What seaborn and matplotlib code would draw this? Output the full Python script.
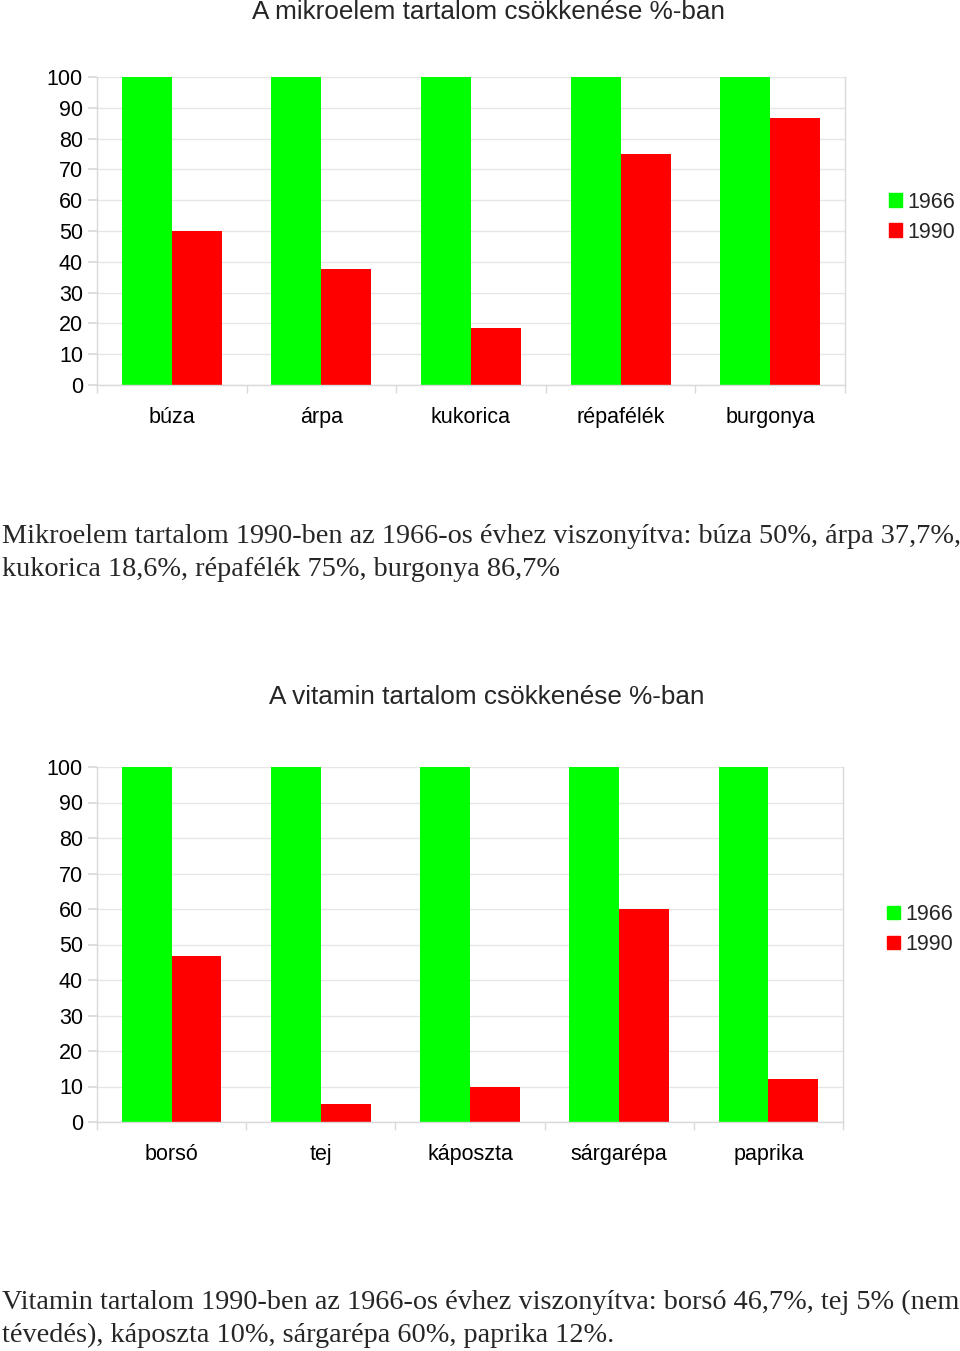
import numpy as np
import pandas as pd
import matplotlib
matplotlib.use("Agg")
import matplotlib.pyplot as plt
import seaborn as sns
from matplotlib.patches import Patch

# data
years = ["1966", "1990"]
mikro_cats = ["búza", "árpa", "kukorica", "répafélék", "burgonya"]
mikro_1966 = [100, 100, 100, 100, 100]
mikro_1990 = [50, 37.7, 18.6, 75, 86.7]
vitamin_cats = ["borsó", "tej", "káposzta", "sárgarépa", "paprika"]
vitamin_1966 = [100, 100, 100, 100, 100]
vitamin_1990 = [46.7, 5, 10, 60, 12]
y_ticks = list(range(0, 101, 10))

title1 = "A mikroelem tartalom csökkenése %-ban"
title2 = "A vitamin tartalom csökkenése %-ban"
text1 = ("Mikroelem tartalom 1990-ben az 1966-os évhez viszonyítva: búza 50%, árpa 37,7%,\n"
         "kukorica 18,6%, répafélék 75%, burgonya 86,7%")
text2 = ("Vitamin tartalom 1990-ben az 1966-os évhez viszonyítva: borsó 46,7%, tej 5% (nem\n"
         "tévedés), káposzta 10%, sárgarépa 60%, paprika 12%.")

sns.set_theme(style="white")
plt.rcParams["font.family"] = ["Liberation Sans", "DejaVu Sans"]

W, H = 960, 1351
fig = plt.figure(figsize=(W / 100, H / 100), dpi=100)
palette = {"1966": "#00ff00", "1990": "#ff0000"}
grey = "#d9d9d9"


def px_axes(x0, y0, x1, y1):
    return fig.add_axes([x0 / W, 1 - y1 / H, (x1 - x0) / W, (y1 - y0) / H])


def bar_chart(ax, cats, v1966, v1990, legend_y):
    df = pd.DataFrame({
        "cat": cats * 2,
        "year": ["1966"] * len(cats) + ["1990"] * len(cats),
        "value": v1966 + v1990,
    })
    sns.barplot(data=df, x="cat", y="value", hue="year", palette=palette,
                width=0.668, gap=0, saturation=1, ax=ax, legend=False,
                linewidth=0)
    ax.set_ylim(0, 100)
    ax.set_xlim(-0.5, len(cats) - 0.5)
    ax.set_yticks(y_ticks)
    ax.yaxis.grid(True, color="#e6e6e6", linewidth=1)
    ax.set_axisbelow(True)
    for s in ax.spines.values():
        s.set_color(grey)
        s.set_linewidth(1)
    ax.spines["top"].set_visible(False)
    ax.tick_params(axis="y", left=True, length=6.5, color=grey, labelsize=15.5,
                   pad=3.6, labelcolor="black")
    ax.set_xticks(np.arange(-0.5, len(cats)), minor=True)
    ax.tick_params(axis="x", which="minor", bottom=True, length=6, color=grey)
    ax.tick_params(axis="x", which="major", bottom=False, labelsize=15.5,
                   pad=9.5, labelcolor="black")
    ax.set_xlabel("")
    ax.set_ylabel("")
    handles = [Patch(color=palette[y], label=y) for y in years]
    ax.legend(handles=handles, loc="center left",
              bbox_to_anchor=(1.044, legend_y), frameon=False, fontsize=15.5,
              handlelength=0.6, handleheight=0.6, handletextpad=0.25,
              labelspacing=0.43, borderpad=0)


ax1 = px_axes(97, 77, 845, 385)
bar_chart(ax1, mikro_cats, mikro_1966, mikro_1990, 0.545)
fig.text(488 / W, 1 - 12 / H, title1, ha="center", va="center", fontsize=18.8)

ax2 = px_axes(97, 767, 843, 1122)
bar_chart(ax2, vitamin_cats, vitamin_1966, vitamin_1990, 0.542)
fig.text(487 / W, 1 - 697 / H, title2, ha="center", va="center", fontsize=18.8)

serif = ["Liberation Serif", "DejaVu Serif"]
fig.text(2 / W, 1 - 553 / H, text1, ha="left", va="center", fontsize=20.3,
         family=serif, linespacing=1.38)
fig.text(2 / W, 1 - 1319 / H, text2, ha="left", va="center", fontsize=20.3,
         family=serif, linespacing=1.38)

fig.savefig("out.png", dpi=100)
